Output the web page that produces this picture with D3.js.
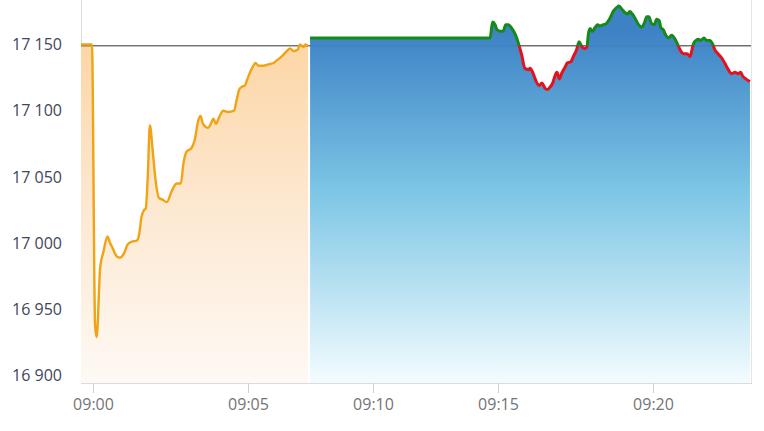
<!DOCTYPE html>
<html>
<head>
<meta charset="utf-8">
<script src="https://cdn.jsdelivr.net/npm/d3@7"></script>
<style>
  html, body { margin: 0; padding: 0; background: #fff; }
  svg { display: block; font-family: "Open Sans", "DejaVu Sans", sans-serif; }
</style>
</head>
<body>
<svg id="chart" width="764" height="431"></svg>
<script>
// ---------- DATA ----------
const preTimes = ["08:59:37","08:59:58","09:00:04","09:00:07","09:00:14","09:00:20","09:00:28","09:00:33","09:00:37","09:00:46",
  "09:00:52","09:01:01","09:01:07","09:01:15","09:01:25","09:01:29","09:01:34","09:01:39","09:01:42","09:01:46",
  "09:01:50","09:01:56","09:02:01","09:02:08","09:02:14","09:02:23","09:02:32","09:02:42","09:02:50","09:02:55",
  "09:03:01","09:03:11","09:03:17","09:03:24","09:03:28","09:03:33","09:03:43","09:03:48","09:03:53","09:03:58",
  "09:04:04","09:04:12","09:04:22","09:04:33","09:04:38","09:04:43","09:04:48","09:04:54","09:04:58","09:05:05",
  "09:05:13","09:05:18","09:05:25","09:05:37","09:05:49","09:06:01","09:06:09","09:06:21","09:06:33","09:06:41",
  "09:06:49","09:06:59","09:07:05","09:07:13","09:07:18","09:07:24"];
const preValues = [17150,17150,16938,16929,16982,16993,17005,17000,16997,16990,
  16989,16993,16999,17001,17002,17006,17020,17025,17026,17050,
  17089,17068,17048,17034,17033,17031,17039,17045,17045,17060,
  17069,17072,17078,17093,17096,17090,17087,17090,17094,17090,
  17095,17100,17099,17100,17108,17116,17118,17119,17123,17129,
  17134,17136,17134,17134,17135,17136,17138,17141,17145,17147,
  17145,17146,17150,17148,17150,17149];

const mainTimes = ["09:07:29","09:14:41","09:14:47","09:14:53","09:14:58","09:15:05","09:15:10","09:15:15","09:15:20","09:15:27",
  "09:15:33","09:15:37","09:15:41","09:15:46","09:15:52","09:15:59","09:16:02","09:16:07","09:16:14","09:16:20",
  "09:16:25","09:16:31","09:16:36","09:16:41","09:16:46","09:16:50","09:16:54","09:16:59","09:17:03","09:17:10",
  "09:17:14","09:17:21","09:17:26","09:17:32","09:17:37","09:17:43","09:17:48","09:17:52","09:17:55","09:17:58",
  "09:18:03","09:18:08","09:18:13","09:18:17","09:18:24","09:18:30","09:18:37","09:18:43","09:18:50","09:18:54",
  "09:18:59","09:19:06","09:19:11","09:19:15","09:19:20","09:19:25","09:19:32","09:19:38","09:19:43","09:19:48",
  "09:19:52","09:19:57","09:20:03","09:20:07","09:20:12","09:20:15","09:20:20","09:20:25","09:20:30","09:20:36",
  "09:20:43","09:20:49","09:20:54","09:20:59","09:21:06","09:21:12","09:21:15","09:21:18","09:21:23","09:21:28",
  "09:21:32","09:21:39","09:21:44","09:21:50","09:21:56","09:22:00","09:22:06","09:22:13","09:22:19","09:22:26",
  "09:22:32","09:22:39","09:22:45","09:22:50","09:22:54","09:23:00","09:23:08"];
const mainValues = [17155,17155,17167,17165,17161,17160,17160,17165,17165,17162,
  17158,17154,17149,17142,17132,17131,17132,17129,17122,17119,
  17121,17117,17116,17118,17121,17126,17129,17124,17128,17133,
  17136,17137,17141,17146,17152,17148,17147,17148,17158,17162,
  17160,17163,17165,17164,17165,17166,17170,17175,17178,17179,
  17177,17174,17173,17175,17173,17170,17165,17163,17166,17171,
  17171,17166,17165,17169,17168,17163,17161,17157,17155,17157,
  17154,17149,17145,17143,17143,17141,17145,17150,17153,17154,
  17153,17155,17153,17153,17150,17146,17143,17140,17136,17131,
  17128,17129,17128,17129,17126,17124,17122];

const prevClose = 17149;
const yTicks = [16900, 16950, 17000, 17050, 17100, 17150];
const xTicks = ["09:00", "09:05", "09:10", "09:15", "09:20"];
const xBreaks = ["08:59:37", "09:00:00", "09:05:00", "09:10:00", "09:15:00", "09:20:00", "09:23:10"];

// ---------- SETUP ----------
const parse = d3.timeParse("%H:%M:%S");
const parseHM = d3.timeParse("%H:%M");
const pre = preTimes.map((t, i) => ({ t: parse(t), v: preValues[i] }));
const main = mainTimes.map((t, i) => ({ t: parse(t), v: mainValues[i] }));

const left = 81, right = 751, bottom = 383;
const x = d3.scaleTime()
  .domain(xBreaks.map(parse))
  .range([left, 93, 248, 373, 498, 653, right]);
const y = d3.scaleLinear().domain([16900, 17150]).range([375.5, 44.5]);

const svg = d3.select("#chart");
const defs = svg.append("defs");

const gO = defs.append("linearGradient").attr("id", "gOrange")
  .attr("gradientUnits", "userSpaceOnUse").attr("x1", 0).attr("x2", 0).attr("y1", 44).attr("y2", bottom);
gO.append("stop").attr("offset", 0).attr("stop-color", "#fcd6a6");
gO.append("stop").attr("offset", 0.5).attr("stop-color", "#fde9d3");
gO.append("stop").attr("offset", 1).attr("stop-color", "#fef9f4");

const gB = defs.append("linearGradient").attr("id", "gBlue")
  .attr("gradientUnits", "userSpaceOnUse").attr("x1", 0).attr("x2", 0).attr("y1", 30).attr("y2", bottom);
gB.append("stop").attr("offset", 0).attr("stop-color", "#3d82c5");
gB.append("stop").attr("offset", 0.45).attr("stop-color", "#7bc5e5");
gB.append("stop").attr("offset", 1).attr("stop-color", "#f3fcfe");

defs.append("clipPath").attr("id", "clipAbove").append("rect")
  .attr("x", left).attr("y", 0).attr("width", right - left).attr("height", y(prevClose));
defs.append("clipPath").attr("id", "clipBelow").append("rect")
  .attr("x", left).attr("y", y(prevClose)).attr("width", right - left).attr("height", bottom - y(prevClose));

const curve = d3.curveMonotoneX;
const area = d3.area().x(d => x(d.t)).y0(bottom).y1(d => y(d.v)).curve(curve);
const line = d3.line().x(d => x(d.t)).y(d => y(d.v)).curve(curve);

// frame
svg.append("line").attr("x1", left + 0.5).attr("x2", left + 0.5).attr("y1", 0).attr("y2", bottom)
  .attr("stroke", "#dcdcdc");
svg.append("line").attr("x1", right + 0.5).attr("x2", right + 0.5).attr("y1", 0).attr("y2", bottom)
  .attr("stroke", "#e4e4e4");

// areas
svg.append("path").datum(pre).attr("d", area).attr("fill", "url(#gOrange)");

// ref line (under blue area)
svg.append("line").attr("x1", left).attr("x2", right)
  .attr("y1", y(prevClose)).attr("y2", y(prevClose))
  .attr("stroke", "#333").attr("stroke-width", 1);

svg.append("path").datum(main).attr("d", area).attr("fill", "url(#gBlue)");

// faint ref line over blue area
svg.append("line").attr("x1", x(main[0].t)).attr("x2", right)
  .attr("y1", y(prevClose)).attr("y2", y(prevClose))
  .attr("stroke", "#000").attr("stroke-opacity", 0.08).attr("stroke-width", 1);

// lines
svg.append("path").datum(pre).attr("d", line).attr("fill", "none")
  .attr("stroke", "#f0a314").attr("stroke-width", 2.4).attr("stroke-linejoin", "round");
svg.append("path").datum(main).attr("d", line).attr("fill", "none")
  .attr("clip-path", "url(#clipAbove)")
  .attr("stroke", "#168a18").attr("stroke-width", 3).attr("stroke-linejoin", "round");
svg.append("path").datum(main).attr("d", line).attr("fill", "none")
  .attr("clip-path", "url(#clipBelow)")
  .attr("stroke", "#e2131d").attr("stroke-width", 3).attr("stroke-linejoin", "round");

// bottom axis
svg.append("line").attr("x1", left).attr("x2", right + 1).attr("y1", bottom + 0.5).attr("y2", bottom + 0.5)
  .attr("stroke", "#dcdcdc");
const xAxis = d3.axisBottom(x)
  .tickValues(xTicks.map(parseHM))
  .tickFormat(d3.timeFormat("%H:%M"))
  .tickSize(10).tickPadding(6).tickSizeOuter(0);
const gx = svg.append("g").attr("transform", `translate(0,${bottom})`).call(xAxis);
gx.select(".domain").remove();
gx.selectAll(".tick line").attr("stroke", "#d0d0d0");
gx.selectAll(".tick text").attr("fill", "#747474").attr("font-size", 16)
  .attr("font-family", "'Open Sans', sans-serif").attr("dy", "0.71em");

// left axis labels
const locale = d3.formatLocale({ decimal: ".", thousands: " ", grouping: [3], currency: ["", ""] });
const fmt = locale.format(",d");
const yAxis = d3.axisLeft(y).tickValues(yTicks).tickFormat(fmt).tickSize(0).tickPadding(0);
const gy = svg.append("g").attr("transform", `translate(62,0)`).call(yAxis);
gy.select(".domain").remove();
gy.selectAll(".tick text").attr("fill", "#41465a").attr("font-size", 16)
  .attr("font-family", "'Open Sans', sans-serif");
</script>
</body>
</html>
